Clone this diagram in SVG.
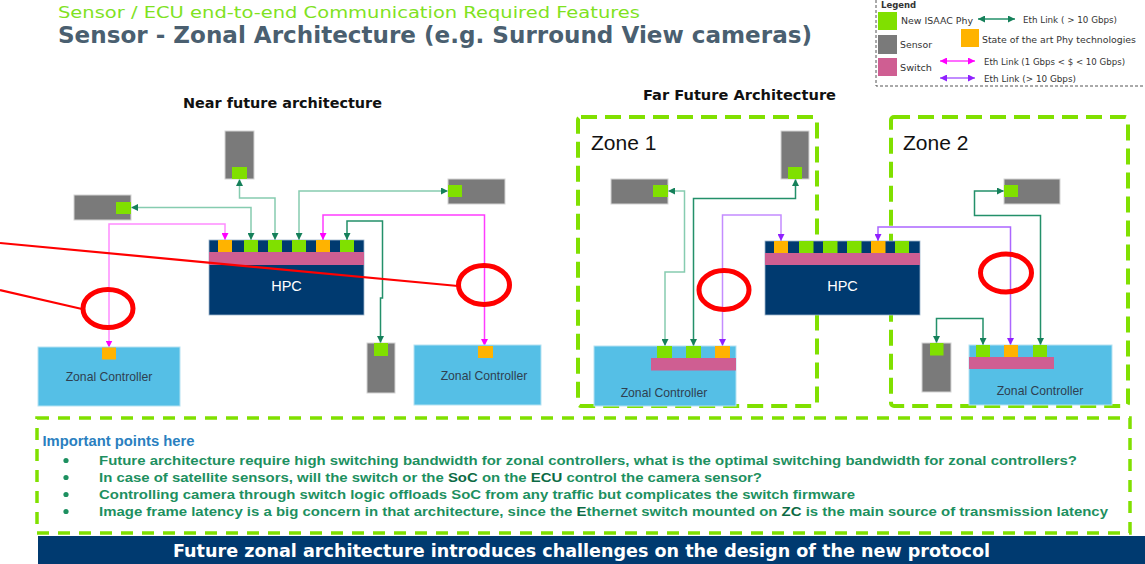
<svg xmlns="http://www.w3.org/2000/svg" width="1145" height="564" viewBox="0 0 1145 564">
<defs>
<style>
.sen{fill:#7a7a7a;stroke:#d4d4d4;stroke-width:1}
.gp{fill:#80e000}
.op{fill:#ffb300}
.pk{fill:#cf5e92}
.nv{fill:#003a70}
.hpc{fill:#003a70;stroke:#9fb6cc;stroke-width:0.8}
.zc{fill:#55bfe6;stroke:#b5e2f2;stroke-width:1}
.zone{fill:none;stroke:#80e000;stroke-width:4;stroke-dasharray:16 8}
.ln{fill:none;stroke-width:1.5}
.gl{stroke:#86ccb0}
.gd{stroke:#23906a}
.ml{stroke:#ff8cff}
.md{stroke:#ff3cff}
.pl{stroke:#c48cff}
.pd{stroke:#ac66ff}
.red{fill:none;stroke:#ff0000}
.lbl{font-family:"Liberation Sans",Arial,sans-serif;font-size:12.2px;fill:#2f4050}
.hpct{font-family:"Liberation Sans",Arial,sans-serif;font-size:14.5px;fill:#ffffff}
.zt{font-family:"Liberation Sans",Arial,sans-serif;font-size:21px;fill:#111111}
.lg{font-family:"DejaVu Sans",Verdana,sans-serif;font-size:9.5px;fill:#333333}
.hd{font-family:"DejaVu Sans",Verdana,sans-serif;font-weight:bold;font-size:14px;fill:#111111}
.pt{font-family:"Liberation Sans",Arial,sans-serif;font-weight:bold;font-size:13px;fill:#1d9060}
.hl{fill:#0c6a44}
</style>
<marker id="ag" viewBox="0 0 8 8" refX="8" refY="4" markerWidth="7" markerHeight="7" markerUnits="userSpaceOnUse" orient="auto-start-reverse"><path d="M0,0 L8,4 L0,8 z" fill="#15805a"/></marker>
<marker id="am" viewBox="0 0 8 8" refX="8" refY="4" markerWidth="7" markerHeight="7" markerUnits="userSpaceOnUse" orient="auto-start-reverse"><path d="M0,0 L8,4 L0,8 z" fill="#ff00ff"/></marker>
<marker id="ap" viewBox="0 0 8 8" refX="8" refY="4" markerWidth="7" markerHeight="7" markerUnits="userSpaceOnUse" orient="auto-start-reverse"><path d="M0,0 L8,4 L0,8 z" fill="#9020ff"/></marker>
</defs>
<rect x="0" y="0" width="1145" height="564" fill="#ffffff"/>

<g id="title">
<text x="58" y="18" font-family="'DejaVu Sans',Verdana,sans-serif" font-size="16.5" fill="#80e21f" textLength="582" lengthAdjust="spacingAndGlyphs">Sensor / ECU end-to-end Communication Required Features</text>
<text x="58" y="42.5" font-family="'DejaVu Sans',Verdana,sans-serif" font-weight="bold" font-size="22.5" fill="#4a5f70" textLength="754" lengthAdjust="spacingAndGlyphs">Sensor - Zonal Architecture (e.g. Surround View cameras)</text>
</g>

<g id="legend">
<rect x="876" y="-6" width="290" height="92" fill="none" stroke="#555555" stroke-width="1" stroke-dasharray="3 2"/>
<text x="881" y="8" font-family="'DejaVu Sans',Verdana,sans-serif" font-weight="bold" font-size="8.5" fill="#333333">Legend</text>
<rect x="878" y="12" width="19" height="18" class="gp"/>
<text x="901" y="24" class="lg" textLength="72" lengthAdjust="spacingAndGlyphs">New ISAAC Phy</text>
<line x1="978" y1="19" x2="1015" y2="19" stroke="#23906a" stroke-width="1.5" marker-start="url(#ag)" marker-end="url(#ag)"/>
<text x="1023" y="23" class="lg" textLength="94" lengthAdjust="spacingAndGlyphs">Eth Link ( &gt; 10 Gbps)</text>
<rect x="878" y="35" width="19" height="19" fill="#7a7a7a"/>
<text x="900" y="48" class="lg" textLength="32" lengthAdjust="spacingAndGlyphs">Sensor</text>
<rect x="961" y="29" width="18" height="18" class="op"/>
<text x="982" y="43" class="lg" textLength="154" lengthAdjust="spacingAndGlyphs">State of the art Phy technologies</text>
<rect x="878" y="58" width="19" height="18" class="pk"/>
<text x="900" y="71" class="lg" textLength="32" lengthAdjust="spacingAndGlyphs">Switch</text>
<line x1="940" y1="61" x2="975" y2="61" stroke="#ff3cff" stroke-width="1.5" marker-start="url(#am)" marker-end="url(#am)"/>
<text x="984" y="65" class="lg" textLength="141" lengthAdjust="spacingAndGlyphs">Eth Link (1 Gbps &lt; $ &lt; 10 Gbps)</text>
<line x1="940" y1="78" x2="975" y2="78" stroke="#ac66ff" stroke-width="1.5" marker-start="url(#ap)" marker-end="url(#ap)"/>
<text x="984" y="82" class="lg" textLength="92" lengthAdjust="spacingAndGlyphs">Eth Link (&gt; 10 Gbps)</text>
</g>

<g id="headings">
<text x="183" y="108" class="hd" textLength="199" lengthAdjust="spacingAndGlyphs">Near future architecture</text>
<text x="643" y="100" class="hd" textLength="193" lengthAdjust="spacingAndGlyphs">Far Future Architecture</text>
</g>

<g id="zone1">
<rect x="578" y="117" width="239" height="289" rx="3" class="zone"/>
<text x="591" y="150" class="zt">Zone 1</text>
</g>
<g id="zone2">
<rect x="891" y="117" width="237" height="289" rx="3" class="zone"/>
<text x="903" y="150" class="zt">Zone 2</text>
</g>

<g id="connectors">
<path class="ln gl" d="M251,240 V207.5 H131" marker-start="url(#ag)" marker-end="url(#ag)"/>
<path class="ln gl" d="M275,240 V198 H239.5 V179" marker-start="url(#ag)" marker-end="url(#ag)"/>
<path class="ln gl" d="M299,240 V191 H448" marker-start="url(#ag)" marker-end="url(#ag)"/>
<path class="ln gd" d="M347,240 V221 H382.5 V298 H380.5 V343" marker-start="url(#ag)" marker-end="url(#ag)"/>
<path class="ln ml" d="M225,240 V224 H109 V347.5" marker-start="url(#am)" marker-end="url(#am)"/>
<path class="ln md" d="M323,240 V215 H484.5 V346" marker-start="url(#am)" marker-end="url(#am)"/>
<path class="ln gl" d="M665,346 V272 H684.5 V191 H668" marker-start="url(#ag)" marker-end="url(#ag)"/>
<path class="ln gd" d="M693.5,346 V198.5 H795.5 V179" marker-start="url(#ag)" marker-end="url(#ag)"/>
<path class="ln pl" d="M722.5,346 V215 H781 V241" marker-start="url(#ap)" marker-end="url(#ap)"/>
<path class="ln pd" d="M878,241 V227 H1010.5 V345" marker-start="url(#ap)" marker-end="url(#ap)"/>
<path class="ln gd" d="M983,345 V318.5 H936.5 V343" marker-start="url(#ag)" marker-end="url(#ag)"/>
<path class="ln gd" d="M1040.5,345 V215.5 H974.5 V191 H1004" marker-start="url(#ag)" marker-end="url(#ag)"/>
</g>

<g id="near-hpc">
<rect x="209" y="240" width="155" height="75" class="hpc"/>
<rect x="209" y="252" width="155" height="13" class="pk"/>
<rect x="218" y="240" width="14" height="12" class="op"/>
<rect x="244" y="240" width="14" height="12" class="gp"/>
<rect x="268" y="240" width="14" height="12" class="gp"/>
<rect x="292" y="240" width="14" height="12" class="gp"/>
<rect x="316" y="240" width="14" height="12" class="op"/>
<rect x="340" y="240" width="14" height="12" class="gp"/>
<text x="286.5" y="291" text-anchor="middle" class="hpct">HPC</text>
</g>

<g id="near-sensor-top"><rect x="225" y="131" width="29" height="48" class="sen"/><rect x="232" y="167" width="15" height="12" class="gp"/></g>
<g id="near-sensor-left"><rect x="74" y="195" width="57" height="25" class="sen"/><rect x="116" y="202" width="15" height="12" class="gp"/></g>
<g id="near-sensor-right"><rect x="448" y="179" width="57" height="25" class="sen"/><rect x="448" y="185" width="14" height="12" class="gp"/></g>
<g id="near-sensor-bottom"><rect x="367" y="343" width="28" height="50" class="sen"/><rect x="374" y="343" width="14" height="13" class="gp"/></g>

<g id="near-zc-left">
<rect x="38" y="347" width="142" height="59" class="zc"/>
<rect x="102" y="347.5" width="14" height="12" class="op"/>
<text x="109" y="381" text-anchor="middle" class="lbl">Zonal Controller</text>
</g>
<g id="near-zc-right">
<rect x="414" y="345" width="127" height="60" class="zc"/>
<rect x="478" y="346" width="15" height="12" class="op"/>
<text x="484" y="380" text-anchor="middle" class="lbl">Zonal Controller</text>
</g>

<g id="far-hpc">
<rect x="765" y="241" width="155" height="74" class="hpc"/>
<rect x="765" y="253" width="155" height="12" class="pk"/>
<rect x="774" y="241" width="14" height="12" class="op"/>
<rect x="799" y="241" width="14.5" height="12" class="gp"/>
<rect x="823" y="241" width="14.5" height="12" class="gp"/>
<rect x="847" y="241" width="14.5" height="12" class="gp"/>
<rect x="871" y="241" width="14.5" height="12" class="op"/>
<rect x="895" y="241" width="14" height="12" class="gp"/>
<text x="842.5" y="290.5" text-anchor="middle" class="hpct">HPC</text>
</g>

<g id="z1-sensor-top"><rect x="781" y="131" width="28" height="48" class="sen"/><rect x="788" y="167" width="14" height="12" class="gp"/></g>
<g id="z1-sensor-left"><rect x="611" y="179" width="57" height="25" class="sen"/><rect x="653" y="185" width="15" height="12" class="gp"/></g>
<g id="z1-zc">
<rect x="594" y="346" width="142" height="60" class="zc"/>
<rect x="651" y="358" width="85" height="12.5" class="pk"/>
<rect x="657" y="346" width="15" height="12" class="gp"/>
<rect x="686" y="346" width="15" height="12" class="gp"/>
<rect x="715" y="346" width="15" height="12" class="op"/>
<text x="664" y="397" text-anchor="middle" class="lbl">Zonal Controller</text>
</g>

<g id="z2-sensor-top"><rect x="1004" y="179" width="56" height="25" class="sen"/><rect x="1004" y="185" width="14" height="12" class="gp"/></g>
<g id="z2-sensor-bottom"><rect x="922" y="343" width="29" height="49" class="sen"/><rect x="930" y="343" width="13.5" height="12.5" class="gp"/></g>
<g id="z2-zc">
<rect x="969" y="345" width="143" height="60" class="zc"/>
<rect x="969" y="357" width="85" height="12" class="pk"/>
<rect x="976" y="345" width="14" height="12" class="gp"/>
<rect x="1004" y="345" width="14" height="12" class="op"/>
<rect x="1033" y="345" width="14" height="12" class="gp"/>
<text x="1040" y="395" text-anchor="middle" class="lbl">Zonal Controller</text>
</g>

<g id="highlights">
<line x1="0" y1="243" x2="458" y2="286" stroke="#ff0000" stroke-width="2.2"/>
<line x1="0" y1="290" x2="82" y2="309" stroke="#ff0000" stroke-width="2.2"/>
<ellipse cx="108" cy="308.5" rx="25" ry="19" class="red" stroke-width="5"/>
<ellipse cx="484" cy="285" rx="25.5" ry="19.5" class="red" stroke-width="5"/>
<ellipse cx="724" cy="290" rx="25" ry="19.5" class="red" stroke-width="5"/>
<ellipse cx="1006" cy="273" rx="25.5" ry="19" class="red" stroke-width="5"/>
</g>

<g id="points">
<rect x="37" y="418" width="1093" height="115" fill="none" stroke="#80e000" stroke-width="3.5" stroke-dasharray="12 9"/>
<text x="42.5" y="446" font-family="'Liberation Sans',Arial,sans-serif" font-weight="bold" font-size="14" fill="#2a7fc0" textLength="152" lengthAdjust="spacingAndGlyphs">Important points here</text>
<g fill="#1d9060">
<circle cx="66" cy="460.5" r="2.6"/>
<circle cx="66" cy="477.5" r="2.6"/>
<circle cx="66" cy="494.5" r="2.6"/>
<circle cx="66" cy="511.5" r="2.6"/>
</g>
<text x="99" y="465" class="pt" textLength="978" lengthAdjust="spacingAndGlyphs">Future architecture require high switching bandwidth for zonal controllers, what is the optimal switching bandwidth for zonal controllers?</text>
<text x="99" y="482" class="pt" textLength="663" lengthAdjust="spacingAndGlyphs">In case of satellite sensors, will the switch or the <tspan class="hl">SoC</tspan> on the <tspan class="hl">ECU</tspan> control the camera sensor?</text>
<text x="99" y="499" class="pt" textLength="756" lengthAdjust="spacingAndGlyphs">Controlling camera through switch logic offloads SoC from any traffic but complicates the switch firmware</text>
<text x="99" y="516" class="pt" textLength="1009" lengthAdjust="spacingAndGlyphs">Image frame latency is a big concern in that architecture, since the <tspan class="hl">E</tspan>thernet switch mounted on <tspan class="hl">ZC</tspan> is the main source of transmission latency</text>
</g>

<g id="banner">
<rect x="38" y="536" width="1107" height="28" class="nv"/>
<text x="173" y="557" font-family="'DejaVu Sans',Verdana,sans-serif" font-weight="bold" font-size="17" fill="#ffffff" textLength="817" lengthAdjust="spacingAndGlyphs">Future zonal architecture introduces challenges on the design of the new protocol</text>
</g>
</svg>
